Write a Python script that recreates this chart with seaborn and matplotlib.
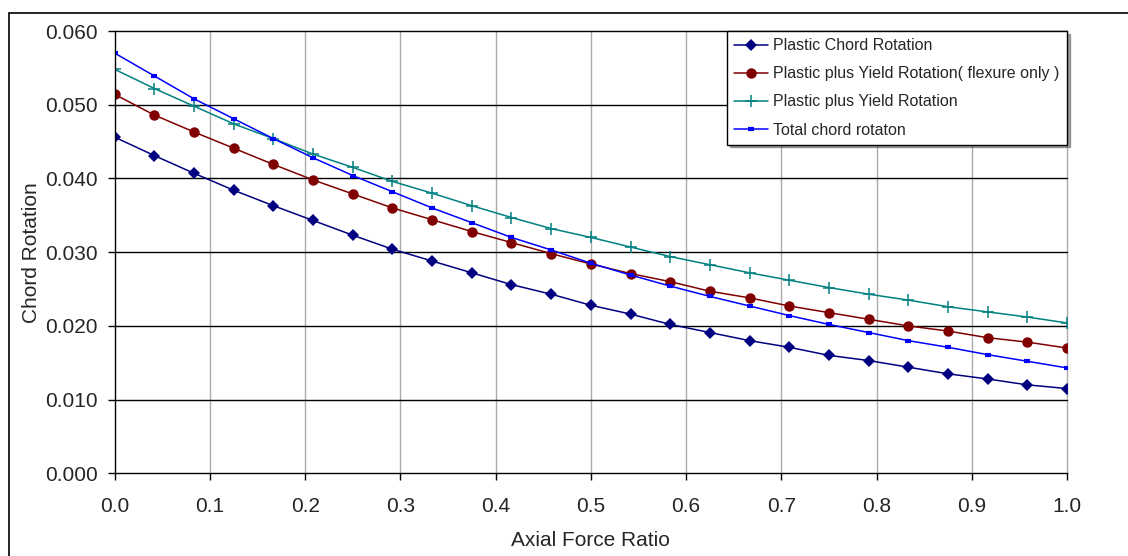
import matplotlib
matplotlib.use("Agg")
import matplotlib.pyplot as plt
import pandas as pd
import seaborn as sns
from matplotlib.patches import Rectangle
from matplotlib.ticker import FormatStrFormatter

# axial force ratio, 25 steps of 1/24
axial_ratio = [k / 24 for k in range(25)]

plastic_chord = [0.0456, 0.0431, 0.0407, 0.0384, 0.0363, 0.0343, 0.0323, 0.0304, 0.0288,
                 0.0272, 0.0256, 0.0243, 0.0228, 0.0216, 0.0202, 0.0191, 0.0180, 0.0171,
                 0.0160, 0.0153, 0.0144, 0.0135, 0.0128, 0.0120, 0.0115]
plastic_yield_flex = [0.0514, 0.0486, 0.0463, 0.0441, 0.0419, 0.0398, 0.0379, 0.0360, 0.0344,
                      0.0328, 0.0313, 0.0298, 0.0284, 0.0271, 0.0260, 0.0247, 0.0238, 0.0227,
                      0.0218, 0.0209, 0.0200, 0.0193, 0.0184, 0.0178, 0.0170]
plastic_yield = [0.0548, 0.0522, 0.0498, 0.0474, 0.0454, 0.0433, 0.0415, 0.0396, 0.0380,
                 0.0363, 0.0347, 0.0332, 0.0320, 0.0307, 0.0294, 0.0283, 0.0272, 0.0262,
                 0.0252, 0.0243, 0.0235, 0.0226, 0.0219, 0.0212, 0.0204]
total_chord = [0.0570, 0.0539, 0.0508, 0.0481, 0.0454, 0.0428, 0.0404, 0.0382, 0.0360,
               0.0340, 0.0320, 0.0303, 0.0285, 0.0269, 0.0254, 0.0240, 0.0227, 0.0214,
               0.0202, 0.0191, 0.0180, 0.0171, 0.0161, 0.0152, 0.0143]

series_names = ["Plastic Chord Rotation",
                "Plastic plus Yield Rotation( flexure only )",
                "Plastic plus Yield Rotation",
                "Total chord rotaton"]
series_values = [plastic_chord, plastic_yield_flex, plastic_yield, total_chord]

df = pd.concat([pd.DataFrame({"ratio": axial_ratio, "rotation": v, "series": n})
                for n, v in zip(series_names, series_values)])

sns.set_style("white")
plt.rcParams["font.family"] = ["Liberation Sans", "DejaVu Sans"]

styles = {
    series_names[0]: dict(color="#000080", marker="D", markersize=6, markeredgewidth=0),
    series_names[1]: dict(color="#800000", marker="o", markersize=7.5, markeredgewidth=0),
    series_names[2]: dict(color="#008080", marker="+", markersize=8, markeredgewidth=1.1),
    series_names[3]: dict(color="#0000FF", marker="_", markersize=5, markeredgewidth=3),
}

fig = plt.figure(figsize=(11.28, 5.56), dpi=100)
ax = fig.add_axes([0.1017, 0.1487, 0.9459 - 0.1017, 0.9442 - 0.1487])

for name in series_names:
    sub = df[df["series"] == name]
    sns.lineplot(data=sub, x="ratio", y="rotation", ax=ax, label=name,
                 linewidth=1.1, markeredgecolor=styles[name]["color"], **styles[name])

ax.set_xlim(0, 1)
ax.set_ylim(0, 0.060)
ax.set_xticks([i / 10 for i in range(11)])
ax.set_yticks([i / 100 for i in range(7)])
ax.xaxis.set_major_formatter(FormatStrFormatter("%.1f"))
ax.yaxis.set_major_formatter(FormatStrFormatter("%.3f"))
ax.tick_params(axis="both", direction="out", length=5, width=1, color="black",
               labelsize=15, bottom=True, left=True)
ax.tick_params(axis="x", pad=12)
ax.tick_params(axis="y", pad=7)

# gridlines: black horizontal, grey vertical
for y in ax.get_yticks()[1:]:
    ax.axhline(y, color="black", linewidth=1, zorder=0.6, clip_on=False)
for x in ax.get_xticks()[1:]:
    ax.axvline(x, color="#ababab", linewidth=1, zorder=0.5, clip_on=False)

for side in ["top", "right"]:
    ax.spines[side].set_visible(False)
for side in ["left", "bottom"]:
    ax.spines[side].set_color("black")
    ax.spines[side].set_linewidth(1)

ax.set_xlabel("Axial Force Ratio", fontsize=15, labelpad=11)
ax.set_ylabel("Chord Rotation", fontsize=15, labelpad=3)

leg = ax.legend(loc="upper right", bbox_to_anchor=(1.0, 1.0), borderaxespad=0,
                fontsize=11.5, frameon=True, fancybox=False, shadow=True,
                edgecolor="black", handlelength=2.1, handletextpad=0.35,
                labelspacing=0.82, borderpad=0.45)
leg.get_frame().set_linewidth(1)
leg.set_zorder(5)

# outer chart-area border
fig.patches.append(Rectangle((9 / 1128, -0.05), 1.2, 1 - 13 / 556 + 0.05,
                             transform=fig.transFigure, fill=False,
                             edgecolor="black", linewidth=1.2))

fig.savefig("out.png", dpi=100)
